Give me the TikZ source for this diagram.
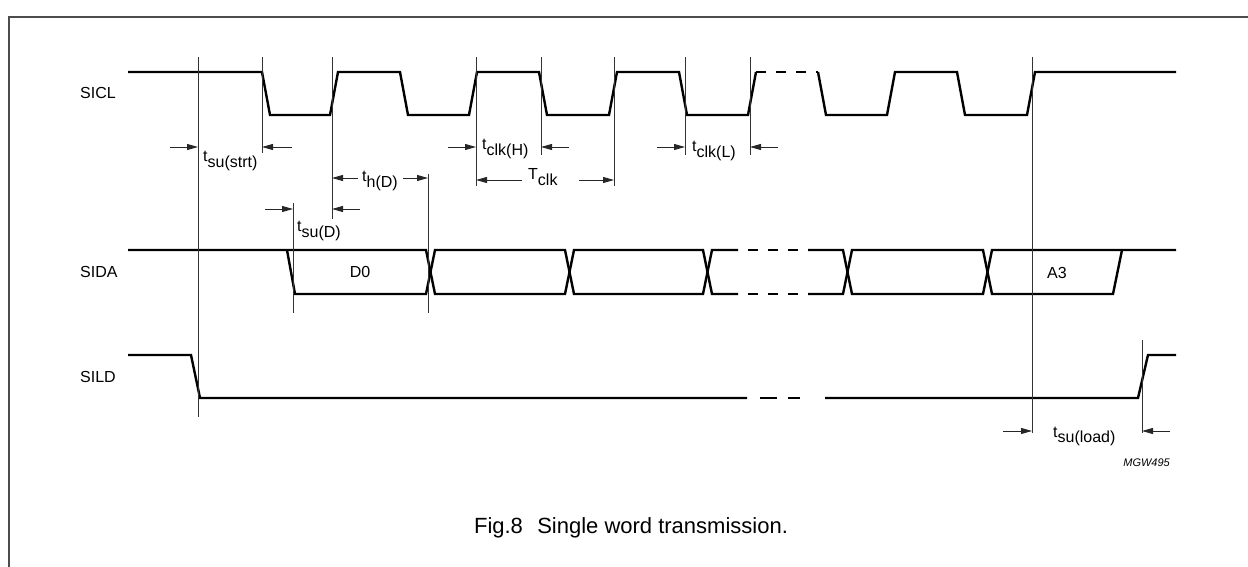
\documentclass[tikz,border=0pt]{standalone}
\usepackage{fontspec}
\setmainfont{Liberation Sans}
\usetikzlibrary{arrows.meta}
\newcommand\tsb[2]{#1\raisebox{-5.5bp}{#2}}
\begin{document}
\begin{tikzpicture}[x=1bp,y=-1bp,
  sig/.style={line width=2.4bp, line join=miter},
  dsh/.style={line width=2.4bp, dash pattern=on 10bp off 10bp},
  vline/.style={line width=0.9bp, black!80},
  arr/.style={line width=0.9bp, black!85, -{Triangle[length=11bp,width=6bp]}},
  lbl/.style={font=\fontsize{16bp}{18bp}\selectfont, inner sep=0pt},
  figcap/.style={font=\fontsize{22bp}{26bp}\selectfont, inner sep=0pt},
  tag/.style={font=\fontsize{11bp}{13bp}\selectfont\itshape, inner sep=0pt}]
\useasboundingbox (0,0) rectangle (1248,567);
% frame
\draw[line width=2bp, black!70] (9,567) -- (9,17) -- (1248,17);
% signal names
\node[lbl, anchor=west] (sicl) at (80,93) {SICL};
\node[lbl, anchor=west] (sida) at (80,272) {SIDA};
\node[lbl, anchor=west] (sild) at (80,377) {SILD};
% SICL
\draw[sig] (128,72) -- (262,72) -- (270,115) -- (330,115) -- (338,72) -- (400,72) -- (408,115)
  -- (469,115) -- (477,72) -- (539,72) -- (547,115) -- (609,115) -- (617,72) -- (679,72)
  -- (687,115) -- (748,115) -- (756,72);
\draw[dsh] (756,72) -- (818,72);
\draw[sig] (818,72) -- (826,115) -- (887,115) -- (895,72) -- (957,72) -- (965,115) -- (1027,115)
  -- (1035,72) -- (1176,72);
% SIDA
\draw[sig] (128,250) -- (426,250) -- (435,294) -- (565,294) -- (574,250) -- (703,250) -- (712,294) -- (738,294);
\draw[sig] (287,250) -- (295,294) -- (426,294) -- (435,250) -- (565,250) -- (574,294) -- (703,294) -- (712,250) -- (738,250);
\draw[dsh] (748,250) -- (800,250);
\draw[dsh] (748,294) -- (800,294);
\draw[sig] (808,250) -- (843,250) -- (852,294) -- (983,294) -- (992,250) -- (1176,250);
\draw[sig] (808,294) -- (843,294) -- (852,250) -- (983,250) -- (992,294) -- (1113,294) -- (1122,250);
\node[lbl] (d0) at (360,272) {D0};
\node[lbl] (a3) at (1057,273) {A3};
% SILD
\draw[sig] (128,355) -- (191,355) -- (200,398) -- (747,398);
\draw[sig] (760,398) -- (777,398);
\draw[sig] (788,398) -- (800,398);
\draw[sig] (825,398) -- (1138,398) -- (1148,355) -- (1176,355);
% vertical reference lines
\coordinate (v1t) at (198,57);  \coordinate (v1b) at (198,417);
\coordinate (v2t) at (262,57);  \coordinate (v2b) at (262,153);
\coordinate (v3t) at (332,57);  \coordinate (v3b) at (332,219);
\coordinate (v4t) at (293,203); \coordinate (v4b) at (293,313);
\coordinate (v5t) at (428,174); \coordinate (v5b) at (428,313);
\coordinate (v6t) at (476,57);  \coordinate (v6b) at (476,186);
\coordinate (v7t) at (541,57);  \coordinate (v7b) at (541,155);
\coordinate (v8t) at (614,57);  \coordinate (v8b) at (614,186);
\coordinate (v9t) at (685,57);  \coordinate (v9b) at (685,155);
\coordinate (v10t) at (750,57); \coordinate (v10b) at (750,155);
\coordinate (v11t) at (1032,57); \coordinate (v11b) at (1032,433);
\coordinate (v12t) at (1142,340); \coordinate (v12b) at (1142,433);
\foreach \i in {1,...,12} \draw[vline] (v\i t) -- (v\i b);
% arrow tails
\coordinate (a1l) at (170,147);  \coordinate (a1r) at (292,147);
\coordinate (a2l) at (358,178);  \coordinate (a2r) at (403,178);
\coordinate (a3l) at (265,209);  \coordinate (a3r) at (360,209);
\coordinate (a4l) at (448,147);  \coordinate (a4r) at (569,147);
\coordinate (a5l) at (522,180);  \coordinate (a5r) at (579,180);
\coordinate (a6l) at (657,147);  \coordinate (a6r) at (778,147);
\coordinate (a7l) at (1003,431); \coordinate (a7r) at (1170,431);
\draw[arr] (a1l) -- (a1l -| v1t);
\draw[arr] (a1r) -- (a1r -| v2t);
\draw[arr] (a2l) -- (a2l -| v3t);
\draw[arr] (a2r) -- (a2r -| v5t);
\draw[arr] (a3l) -- (a3l -| v4t);
\draw[arr] (a3r) -- (a3r -| v3t);
\draw[arr] (a4l) -- (a4l -| v6t);
\draw[arr] (a4r) -- (a4r -| v7t);
\draw[arr] (a5l) -- (a5l -| v6t);
\draw[arr] (a5r) -- (a5r -| v8t);
\draw[arr] (a6l) -- (a6l -| v9t);
\draw[arr] (a6r) -- (a6r -| v10t);
\draw[arr] (a7l) -- (a7l -| v11t);
\draw[arr] (a7r) -- (a7r -| v12t);
% timing labels
\node[lbl, anchor=base west] (tsustrt) at (203,162) {\tsb{t}{su(strt)}};
\node[lbl, anchor=base west] (thd) at (362,182) {\tsb{t}{h(D)}};
\node[lbl, anchor=base west] (tsud) at (297,232) {\tsb{t}{su(D)}};
\node[lbl, anchor=base west] (tclkh) at (482,150) {\tsb{t}{clk(H)}};
\node[lbl, anchor=base west] (Tclk) at (528,180) {\tsb{T}{clk}};
\node[lbl, anchor=base west] (tclkl) at (692,152) {\tsb{t}{clk(L)}};
\node[lbl, anchor=base west] (tsuload) at (1053,437) {\tsb{t}{su(load)}};
% tag and caption
\node[tag, anchor=east] (mgw) at (1170,463) {MGW495};
\node[figcap, anchor=base] (caption) at (631,533) {Fig.8\hspace{0.65em}Single word transmission.};
\end{tikzpicture}
\end{document}
